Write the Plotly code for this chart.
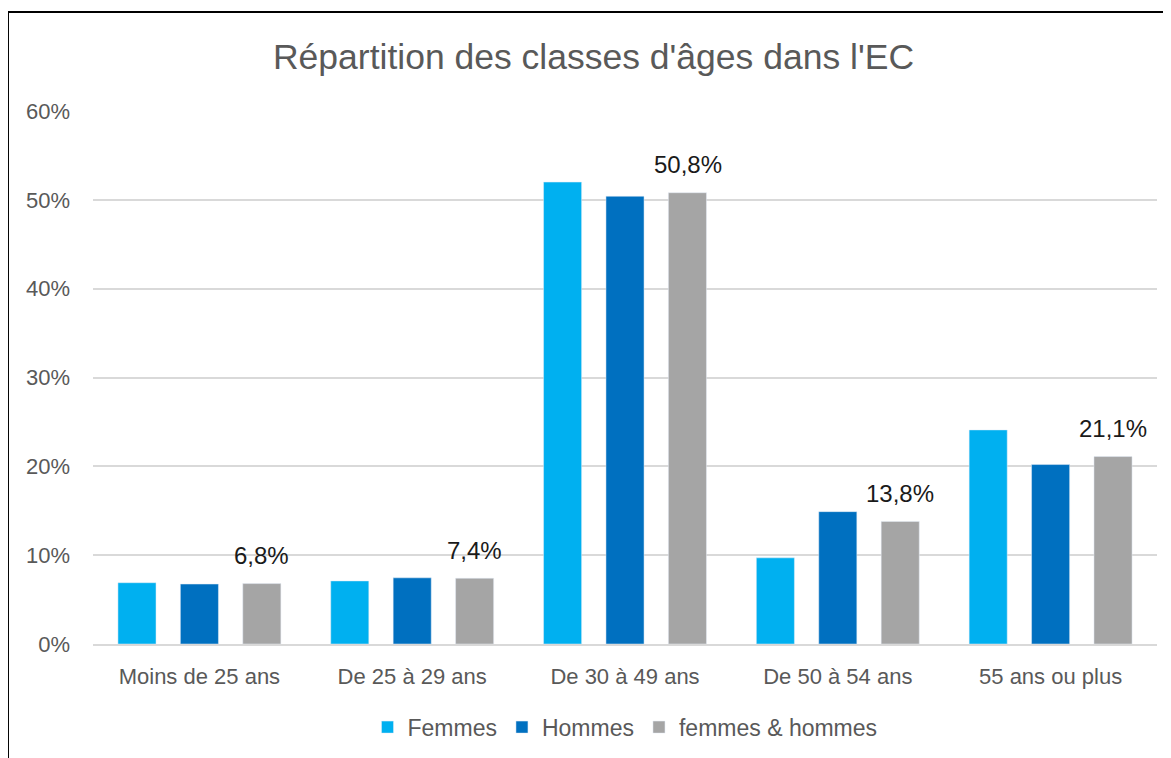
import plotly.graph_objects as go

categories = ["Moins de 25 ans", "De 25 à 29 ans", "De 30 à 49 ans", "De 50 à 54 ans", "55 ans ou plus"]
femmes = [6.9, 7.1, 52.0, 9.7, 24.1]
hommes = [6.75, 7.45, 50.4, 14.9, 20.2]
total = [6.8, 7.4, 50.8, 13.8, 21.1]
series_names = ["Femmes", "Hommes", "femmes & hommes"]
colors = ["#00B0F0", "#0070C0", "#A5A5A5"]
tick_vals = [0, 10, 20, 30, 40, 50, 60]
tick_text = ["0%", "10%", "20%", "30%", "40%", "50%", "60%"]

FONT = "Liberation Sans, Arial, sans-serif"

fig = go.Figure()
fig.add_trace(go.Bar(x=categories, y=femmes, name=series_names[0], marker_color=colors[0]))
fig.add_trace(go.Bar(x=categories, y=hommes, name=series_names[1], marker_color=colors[1]))
fig.add_trace(go.Bar(x=categories, y=total, name=series_names[2], marker_color=colors[2]))

annotations = [
    dict(x=c, y=v, xref="x", yref="y", text=f"{v:.1f}%".replace(".", ","),
         showarrow=False, xshift=62.5, yshift=28, yanchor="middle", xanchor="center",
         font=dict(size=24, color="#1a1a1a", family=FONT))
    for c, v in zip(categories, total)
]

fig.update_layout(
    width=1171, height=758,
    margin=dict(l=85, r=22, t=103, b=122),
    paper_bgcolor="white", plot_bgcolor="white",
    barmode="group", bargap=0.12, bargroupgap=0.39,
    title=dict(text="Répartition des classes d'âges dans l'EC", x=0.5, xanchor="center",
               y=1 - 49 / 758, yanchor="middle",
               font=dict(size=35.5, color="#595959", family=FONT)),
    font=dict(family=FONT, color="#595959"),
    showlegend=True,
    legend=dict(orientation="h", x=0.5, xanchor="center", y=-0.156, yanchor="middle",
                font=dict(size=23, color="#595959", family=FONT), traceorder="normal",
                itemwidth=30),
    yaxis=dict(range=[0, 60], tickvals=tick_vals, ticktext=tick_text,
               showgrid=True, gridcolor="#D9D9D9", gridwidth=2,
               zeroline=False, showline=False,
               tickfont=dict(size=22, color="#595959"), ticklabelstandoff=22),
    xaxis=dict(showline=True, linecolor="#D9D9D9", linewidth=2,
               tickfont=dict(size=22, color="#595959"), ticks="", ticklabelstandoff=12),
    annotations=annotations,
    shapes=[
        dict(type="line", xref="paper", yref="paper", x0=-0.0799, x1=1.2, y0=1.1857, y1=1.1857,
             line=dict(color="black", width=2)),
        dict(type="line", xref="paper", yref="paper", x0=-0.0799, x1=-0.0799, y0=1.1857, y1=-0.4,
             line=dict(color="black", width=2)),
    ],
)

fig.write_html("out.html")
